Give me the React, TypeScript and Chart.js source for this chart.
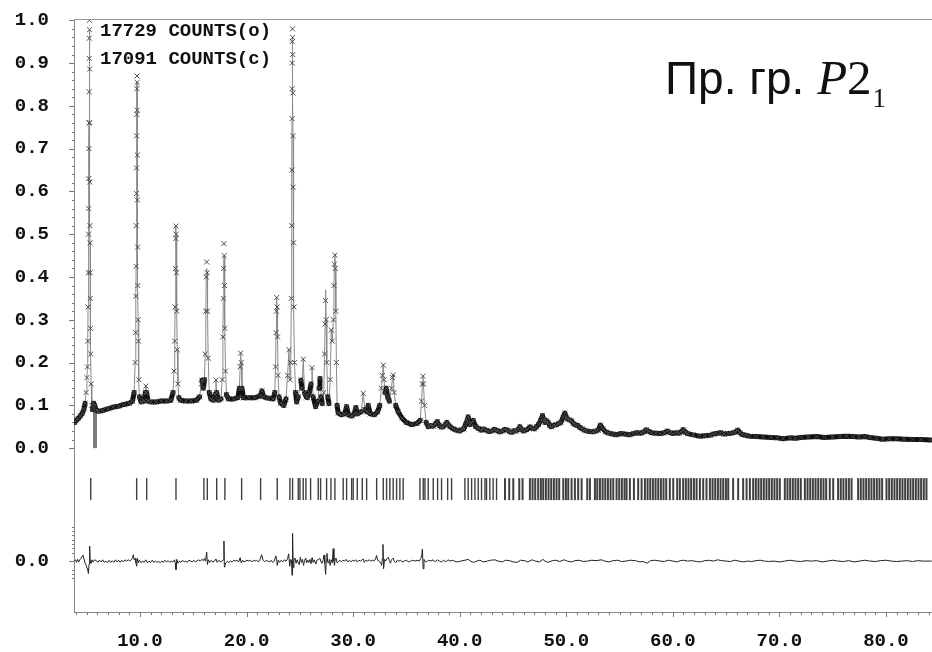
import React, { useEffect, useRef } from 'react';
import { Chart, registerables } from 'chart.js';

Chart.register(...registerables);

// ---- axis ranges & labels ----
const X_MIN = 3.81;
const X_MAX = 84.32;
const Y_MIN = -0.383;
const Y_MAX = 1.003;
const xTickValues = [10, 20, 30, 40, 50, 60, 70, 80];
const yTickValues = [0, 0.1, 0.2, 0.3, 0.4, 0.5, 0.6, 0.7, 0.8, 0.9, 1.0];
const DIFF_ZERO = -0.264; // row where the difference curve is drawn
const TICK_ROW = -0.0958; // row of reflection markers
const legendLines = ['17729 COUNTS(o)', '17091 COUNTS(c)'];
const diffAxisMinor = [0.08, 0.07, 0.06, 0.05, 0.04, 0.03, 0.02, -0.02, -0.03, -0.04];

// ---- observed profile: [2theta, intensity] ----
const observed: [number, number][] = [
  [3.85, 0.060], [4.0, 0.064], [4.2, 0.069], [4.4, 0.075], [4.6, 0.082], [4.75, 0.092], [4.85, 0.105],
  [4.95, 0.13], [5.02, 0.165], [5.07, 0.19], [5.1, 0.25], [5.13, 0.33], [5.15, 0.41], [5.17, 0.5],
  [5.19, 0.56], [5.2, 0.63], [5.21, 0.70], [5.22, 0.76], [5.23, 0.833], [5.24, 0.911], [5.25, 0.958],
  [5.26, 1.0], [5.27, 0.978], [5.28, 0.886], [5.29, 0.761], [5.3, 0.622], [5.31, 0.52], [5.32, 0.48],
  [5.33, 0.41], [5.34, 0.35], [5.36, 0.28], [5.38, 0.22], [5.42, 0.15], [5.48, 0.10], [5.55, 0.09],
  [5.65, 0.105], [5.75, 0.10], [5.9, 0.088], [6.1, 0.086], [6.5, 0.088], [7.0, 0.092], [7.5, 0.096],
  [8.0, 0.098], [8.5, 0.102], [9.0, 0.105], [9.3, 0.11], [9.45, 0.13], [9.55, 0.2], [9.6, 0.27],
  [9.62, 0.355], [9.64, 0.425], [9.66, 0.52], [9.67, 0.595], [9.68, 0.655], [9.69, 0.73], [9.7, 0.78],
  [9.71, 0.84], [9.72, 0.87], [9.73, 0.855], [9.74, 0.79], [9.75, 0.685], [9.76, 0.58], [9.78, 0.47],
  [9.8, 0.38], [9.83, 0.3], [9.86, 0.25], [9.9, 0.16], [9.95, 0.12], [10.1, 0.108], [10.4, 0.11],
  [10.5, 0.13], [10.56, 0.145], [10.62, 0.13], [10.75, 0.11], [11.0, 0.108], [11.5, 0.108], [12.0, 0.11],
  [12.5, 0.11], [12.9, 0.112], [13.1, 0.13], [13.2, 0.18], [13.26, 0.25], [13.3, 0.33], [13.33, 0.42],
  [13.36, 0.49], [13.38, 0.519], [13.4, 0.50], [13.43, 0.41], [13.46, 0.32], [13.5, 0.23], [13.56, 0.15],
  [13.65, 0.118], [13.8, 0.112], [14.3, 0.11], [14.8, 0.11], [15.3, 0.112], [15.6, 0.12], [15.75, 0.15],
  [15.82, 0.159], [15.95, 0.14], [16.05, 0.16], [16.12, 0.22], [16.18, 0.32], [16.22, 0.40], [16.26, 0.435],
  [16.3, 0.41], [16.34, 0.32], [16.4, 0.21], [16.5, 0.13], [16.65, 0.115], [16.9, 0.112], [17.05, 0.125],
  [17.13, 0.159], [17.2, 0.13], [17.35, 0.112], [17.6, 0.115], [17.72, 0.16], [17.78, 0.26], [17.82, 0.35],
  [17.85, 0.42], [17.88, 0.478], [17.9, 0.45], [17.93, 0.38], [17.97, 0.28], [18.03, 0.18], [18.12, 0.125],
  [18.3, 0.115], [18.8, 0.115], [19.2, 0.118], [19.33, 0.14], [19.4, 0.19], [19.45, 0.222], [19.5, 0.20],
  [19.57, 0.14], [19.7, 0.118], [20.2, 0.118], [20.8, 0.118], [21.3, 0.122], [21.45, 0.134], [21.6, 0.12],
  [22.0, 0.117], [22.5, 0.115], [22.65, 0.13], [22.72, 0.19], [22.77, 0.27], [22.8, 0.32], [22.83, 0.352],
  [22.87, 0.33], [22.91, 0.26], [22.96, 0.17], [23.05, 0.12], [23.2, 0.105], [23.5, 0.10], [23.7, 0.115],
  [23.85, 0.17], [23.98, 0.23], [24.08, 0.16], [24.15, 0.20], [24.2, 0.35], [24.23, 0.52], [24.25, 0.65],
  [24.27, 0.77], [24.28, 0.84], [24.29, 0.9], [24.3, 0.95], [24.31, 0.98], [24.32, 0.96], [24.33, 0.92],
  [24.34, 0.83], [24.36, 0.73], [24.38, 0.61], [24.41, 0.48], [24.45, 0.33], [24.5, 0.2], [24.6, 0.13],
  [24.7, 0.108], [24.85, 0.12], [25.1, 0.159], [25.2, 0.14], [25.32, 0.208], [25.45, 0.13], [25.6, 0.12],
  [25.7, 0.118], [25.9, 0.13], [26.05, 0.15], [26.14, 0.188], [26.25, 0.12], [26.48, 0.097], [26.7, 0.11],
  [26.8, 0.14], [26.89, 0.163], [27.0, 0.12], [27.1, 0.104], [27.25, 0.13], [27.32, 0.22], [27.37, 0.29],
  [27.42, 0.345], [27.47, 0.3], [27.53, 0.2], [27.62, 0.12], [27.73, 0.104], [27.85, 0.16], [27.95, 0.276],
  [28.05, 0.25], [28.15, 0.3], [28.2, 0.38], [28.25, 0.43], [28.29, 0.451], [28.33, 0.42], [28.38, 0.32],
  [28.43, 0.2], [28.5, 0.1], [28.6, 0.082], [28.9, 0.078], [29.2, 0.08], [29.39, 0.097], [29.55, 0.078],
  [29.9, 0.075], [30.1, 0.08], [30.26, 0.095], [30.4, 0.08], [30.75, 0.085], [30.95, 0.128], [31.1, 0.09],
  [31.3, 0.085], [31.42, 0.1], [31.6, 0.08], [32.0, 0.078], [32.3, 0.085], [32.5, 0.10], [32.65, 0.14],
  [32.75, 0.17], [32.83, 0.194], [32.9, 0.16], [33.0, 0.13], [33.1, 0.14], [33.24, 0.12], [33.4, 0.11],
  [33.6, 0.14], [33.7, 0.165], [33.76, 0.171], [33.85, 0.13], [34.0, 0.1], [34.23, 0.085], [34.6, 0.07],
  [35.0, 0.06], [35.5, 0.055], [36.0, 0.058], [36.3, 0.065], [36.42, 0.11], [36.5, 0.15], [36.55, 0.168],
  [36.6, 0.15], [36.7, 0.1], [36.85, 0.06], [37.05, 0.05], [37.3, 0.053], [37.5, 0.051], [37.7, 0.056],
  [37.9, 0.062], [38.1, 0.052], [38.3, 0.049], [38.5, 0.051], [38.65, 0.055], [38.8, 0.06], [38.95, 0.054],
  [39.1, 0.05], [39.4, 0.045], [39.7, 0.042], [40.0, 0.04], [40.2, 0.043], [40.4, 0.045], [40.55, 0.055],
  [40.7, 0.065], [40.8, 0.073], [40.95, 0.055], [41.1, 0.058], [41.27, 0.065], [41.5, 0.05], [41.75, 0.046],
  [42.0, 0.042], [42.25, 0.045], [42.5, 0.042], [42.75, 0.039], [43.0, 0.04], [43.25, 0.044], [43.5, 0.041],
  [43.75, 0.038], [44.0, 0.04], [44.25, 0.044], [44.5, 0.042], [44.7, 0.038], [44.9, 0.037], [45.1, 0.041],
  [45.3, 0.04], [45.5, 0.044], [45.65, 0.05], [45.8, 0.043], [46.0, 0.04], [46.3, 0.043], [46.6, 0.05],
  [46.8, 0.046], [47.0, 0.045], [47.2, 0.05], [47.4, 0.055], [47.6, 0.065], [47.77, 0.076], [47.9, 0.066],
  [48.0, 0.06], [48.15, 0.064], [48.3, 0.06], [48.45, 0.053], [48.6, 0.05], [48.85, 0.054], [49.1, 0.055],
  [49.3, 0.058], [49.5, 0.06], [49.7, 0.072], [49.87, 0.082], [50.0, 0.072], [50.1, 0.068], [50.3, 0.066],
  [50.5, 0.064], [50.65, 0.058], [50.8, 0.055], [51.06, 0.053], [51.3, 0.048], [51.5, 0.045], [51.7, 0.042],
  [51.9, 0.04], [52.2, 0.039], [52.5, 0.038], [52.75, 0.04], [53.0, 0.042], [53.2, 0.054], [53.45, 0.045],
  [53.7, 0.038], [54.0, 0.035], [54.35, 0.033], [54.7, 0.031], [55.1, 0.034], [55.5, 0.033], [55.9, 0.031],
  [56.3, 0.034], [56.65, 0.036], [57.0, 0.035], [57.3, 0.038], [57.5, 0.043], [57.75, 0.039], [58.0, 0.036],
  [58.4, 0.035], [58.8, 0.034], [59.2, 0.036], [59.5, 0.04], [59.75, 0.036], [60.0, 0.034], [60.3, 0.036],
  [60.6, 0.035], [60.8, 0.038], [60.97, 0.043], [61.2, 0.037], [61.4, 0.034], [61.9, 0.031], [62.5, 0.028],
  [63.0, 0.029], [63.5, 0.03], [63.8, 0.033], [64.1, 0.034], [64.45, 0.036], [64.8, 0.033], [65.2, 0.034],
  [65.5, 0.035], [65.8, 0.037], [66.1, 0.042], [66.3, 0.036], [66.5, 0.032], [66.85, 0.03], [67.2, 0.028],
  [67.8, 0.027], [68.5, 0.026], [69.2, 0.025], [69.8, 0.024], [70.35, 0.022], [71.0, 0.024], [71.5, 0.023],
  [72.0, 0.025], [72.7, 0.026], [73.5, 0.027], [74.2, 0.025], [75.0, 0.026], [75.7, 0.027], [76.3, 0.028],
  [76.9, 0.027], [77.5, 0.026], [78.0, 0.027], [78.5, 0.025], [79.1, 0.023], [79.7, 0.021], [80.3, 0.022],
  [81.0, 0.022], [81.7, 0.021], [82.5, 0.02], [83.3, 0.02], [84.2, 0.019],
];

// calculated profile differs from observed only at these peak tops
const calcPeakTops: [number, number][] = [
  [5.26, 0.96], [9.72, 0.855], [16.26, 0.42], [17.88, 0.43], [24.31, 0.94], [27.42, 0.37],
];

// difference curve (obs - calc): [2theta, delta]
const difference: [number, number][] = [
  [3.85, 0], [3.95, 0.003], [4.05, -0.003], [4.15, 0.004], [4.25, -0.002], [4.35, 0.003], [4.45, 0.006],
  [4.55, 0.01], [4.66, 0.014], [4.75, 0.005], [4.85, -0.005], [4.95, -0.01], [5.05, -0.018], [5.12, -0.022],
  [5.16, -0.029], [5.22, -0.008], [5.28, 0.035], [5.33, 0.0], [5.4, -0.005], [5.5, 0.003], [5.6, -0.002],
  [5.75, 0.003], [5.9, 0.001], [6.05, -0.003], [6.2, 0.002], [6.35, -0.002], [6.5, 0.003], [6.65, -0.003],
  [6.8, 0.0], [6.95, -0.004], [7.1, 0.002], [7.25, -0.003], [7.4, 0.001], [7.55, -0.003], [7.7, 0.003],
  [7.85, -0.002], [8.0, 0.002], [8.15, -0.003], [8.3, 0.002], [8.45, -0.002], [8.6, 0.003], [8.75, 0.0],
  [8.9, 0.003], [9.05, 0.0], [9.2, 0.004], [9.3, 0.008], [9.38, 0.015], [9.45, 0.003], [9.55, 0.006],
  [9.62, -0.004], [9.69, -0.012], [9.76, 0.006], [9.85, -0.004], [9.95, 0.002], [10.1, -0.004], [10.25, 0.0],
  [10.4, -0.003], [10.55, 0.003], [10.7, -0.004], [10.85, 0.0], [11.0, -0.003], [11.15, 0.002], [11.3, -0.003],
  [11.45, 0.0], [11.6, -0.003], [11.75, -0.001], [11.9, -0.004], [12.05, 0.0], [12.2, -0.003], [12.35, 0.002],
  [12.5, -0.002], [12.65, 0.001], [12.8, -0.003], [12.95, 0.0], [13.1, -0.002], [13.25, 0.003], [13.32, -0.006],
  [13.38, -0.02], [13.45, 0.004], [13.55, -0.005], [13.7, 0.0], [13.85, -0.003], [14.0, 0.002], [14.15, -0.002],
  [14.3, 0.0], [14.45, -0.003], [14.6, 0.002], [14.75, 0.0], [14.9, -0.002], [15.05, 0.002], [15.2, -0.002],
  [15.35, 0.0], [15.5, 0.003], [15.65, 0.0], [15.8, 0.004], [15.95, 0.001], [16.05, 0.006], [16.15, 0.0],
  [16.26, 0.021], [16.33, -0.008], [16.42, 0.003], [16.55, -0.003], [16.7, 0.002], [16.85, -0.002], [17.0, 0.0],
  [17.13, 0.005], [17.25, -0.003], [17.4, 0.002], [17.55, -0.002], [17.7, 0.0], [17.84, 0.003], [17.88, 0.047],
  [17.92, -0.014], [17.97, -0.01], [18.05, -0.004], [18.2, -0.001], [18.35, -0.003], [18.5, 0.0], [18.65, -0.002],
  [18.8, 0.002], [18.95, 0.0], [19.1, 0.002], [19.25, -0.002], [19.4, 0.008], [19.5, -0.004], [19.62, 0.002],
  [19.75, -0.002], [19.9, 0.0], [20.05, 0.002], [20.2, 0.0], [20.35, 0.002], [20.5, -0.002], [20.65, 0.002],
  [20.8, 0.0], [20.95, 0.002], [21.1, -0.002], [21.25, 0.003], [21.42, 0.015], [21.55, 0.002], [21.7, -0.002],
  [21.85, 0.002], [22.0, 0.0], [22.15, -0.002], [22.3, 0.002], [22.45, -0.003], [22.6, 0.0], [22.75, 0.012],
  [22.83, 0.003], [22.88, -0.01], [22.98, 0.002], [23.1, -0.003], [23.25, 0.002], [23.4, -0.002], [23.55, 0.003],
  [23.7, 0.0], [23.85, 0.005], [23.95, 0.017], [24.05, -0.012], [24.15, 0.004], [24.22, 0.002], [24.27, -0.033],
  [24.32, 0.065], [24.38, -0.015], [24.45, 0.002], [24.55, 0.007], [24.65, -0.005], [24.75, 0.003],
  [24.85, -0.004], [24.95, -0.008], [25.05, 0.009], [25.15, -0.003], [25.25, 0.004], [25.35, -0.01],
  [25.45, 0.002], [25.55, 0.007], [25.65, -0.004], [25.75, 0.002], [25.85, -0.003], [25.95, 0.004],
  [26.05, -0.006], [26.15, 0.008], [26.25, -0.003], [26.35, 0.003], [26.5, -0.007], [26.6, 0.002], [26.75, 0.004],
  [26.9, 0.006], [27.0, -0.003], [27.1, -0.005], [27.2, 0.004], [27.27, 0.014], [27.34, -0.005], [27.42, -0.031],
  [27.49, 0.004], [27.55, 0.018], [27.62, -0.003], [27.7, -0.005], [27.78, 0.004], [27.85, -0.01], [27.95, 0.003],
  [28.05, -0.004], [28.13, 0.029], [28.2, 0.0], [28.25, -0.01], [28.32, 0.005], [28.4, 0.007], [28.5, -0.004],
  [28.6, -0.002], [28.75, 0.002], [28.9, -0.002], [29.05, 0.002], [29.2, 0.0], [29.35, 0.004], [29.5, -0.002],
  [29.65, 0.002], [29.8, -0.002], [29.95, 0.002], [30.1, 0.0], [30.25, 0.003], [30.4, -0.002], [30.55, 0.002],
  [30.7, 0.0], [30.85, 0.003], [30.95, 0.005], [31.05, -0.003], [31.2, 0.002], [31.35, 0.0], [31.5, 0.003],
  [31.65, 0.0], [31.8, 0.002], [31.95, 0.0], [32.1, 0.005], [32.2, 0.013], [32.3, 0.002], [32.45, 0.0],
  [32.6, -0.005], [32.67, -0.01], [32.75, 0.006], [32.8, 0.039], [32.86, -0.018], [32.95, 0.004], [33.05, 0.0],
  [33.15, 0.005], [33.3, 0.009], [33.4, 0.001], [33.5, -0.005], [33.6, 0.003], [33.75, 0.007], [33.85, 0.0],
  [34.0, -0.004], [34.15, 0.002], [34.3, 0.0], [34.45, 0.002], [34.6, -0.002], [34.8, 0.0], [35.0, 0.002],
  [35.2, -0.002], [35.4, 0.0], [35.6, 0.002], [35.8, 0.0], [36.0, 0.002], [36.2, 0.0], [36.35, 0.006],
  [36.45, 0.015], [36.5, 0.028], [36.57, -0.018], [36.65, 0.004], [36.75, 0.0], [36.9, -0.002], [37.1, 0.002],
  [37.3, 0.0], [37.5, 0.003], [37.7, -0.002], [37.9, 0.003], [38.1, 0.0], [38.3, -0.002], [38.5, 0.002],
  [38.7, -0.002], [38.9, 0.003], [39.1, 0.0], [39.3, 0.002], [39.5, 0.0], [39.8, -0.002], [40.1, 0.0],
  [40.5, 0.002], [40.8, 0.004], [41.0, 0.0], [41.3, -0.003], [41.6, 0.0], [41.9, 0.002], [42.2, -0.002],
  [42.6, 0.0], [42.9, 0.002], [43.3, 0.003], [43.6, 0.0], [44.0, -0.002], [44.3, 0.002], [44.7, 0.001],
  [45.0, -0.002], [45.4, -0.003], [45.7, 0.002], [46.1, 0.001], [46.4, -0.002], [46.8, 0.003], [47.1, 0.0],
  [47.5, -0.002], [47.8, 0.004], [48.0, 0.0], [48.3, -0.003], [48.7, 0.001], [49.0, 0.002], [49.4, -0.001],
  [49.8, 0.003], [50.1, 0.0], [50.5, -0.002], [50.8, 0.001], [51.2, 0.002], [51.6, -0.001], [52.0, 0.0],
  [52.4, 0.002], [52.8, 0.001], [53.3, 0.003], [53.6, 0.0], [54.0, -0.002], [54.4, 0.001], [54.8, 0.002],
  [55.2, -0.001], [55.6, 0.0], [56.0, 0.002], [56.5, 0.001], [56.9, -0.002], [57.2, -0.001], [57.6, -0.005],
  [57.9, 0.001], [58.3, 0.002], [58.8, 0.0], [59.2, -0.001], [59.6, 0.002], [60.0, 0.0], [60.4, -0.002],
  [60.7, 0.001], [61.0, 0.002], [61.4, 0.0], [61.8, 0.001], [62.2, -0.001], [62.6, -0.002], [63.0, 0.001],
  [63.4, 0.002], [63.8, 0.0], [64.2, 0.003], [64.6, 0.001], [65.0, 0.0], [65.4, -0.001], [65.8, 0.002],
  [66.2, 0.0], [66.6, -0.002], [67.0, 0.0], [67.4, -0.001], [67.8, 0.001], [68.2, 0.002], [68.6, 0.0],
  [69.0, -0.001], [69.5, 0.0], [70.0, -0.002], [70.5, 0.0], [71.0, 0.002], [71.5, 0.0], [72.0, -0.001],
  [72.5, 0.001], [73.0, 0.0], [73.5, 0.001], [74.0, -0.002], [74.5, 0.0], [75.0, 0.002], [75.5, 0.0],
  [76.0, -0.001], [76.5, 0.001], [77.0, -0.002], [77.5, 0.0], [78.0, 0.002], [78.5, 0.0], [79.0, -0.001],
  [79.5, 0.001], [80.0, 0.002], [80.5, 0.0], [81.0, -0.001], [81.5, 0.0], [82.0, 0.001], [82.5, -0.001],
  [83.0, 0.001], [83.5, 0.0], [84.3, 0.0],
];

// Bragg reflection positions (2theta)
const reflections: number[] = [
  5.38, 9.69, 10.63, 13.38, 16.0, 16.32, 17.2, 17.97, 19.54, 21.32, 22.88, 24.07, 24.32, 24.85, 25.01,
  25.32, 25.57, 26.01, 26.73, 26.95, 27.51, 27.92, 28.29, 29.07, 29.39, 29.86, 30.01, 30.39, 30.86, 31.27,
  32.21, 32.83, 33.14, 33.45, 33.76, 34.08, 34.39, 34.70, 36.27, 36.58, 36.74, 37.05, 37.52, 37.93, 38.30,
  38.87, 39.24, 40.49, 40.80, 41.12, 41.43, 41.74, 42.05, 42.37, 42.52, 42.83, 43.14, 43.46,
  44.25, 44.65, 45.03, 45.59, 45.90, 46.59, 46.84, 47.09, 47.37, 47.62, 47.84, 48.09, 48.34, 48.59, 48.84,
  49.09, 49.34, 49.72, 49.97, 50.19, 50.50, 50.81, 51.12, 51.44, 51.97, 52.22, 52.69, 52.91, 53.16, 53.41,
  53.66, 53.91, 54.16, 54.41, 54.72, 54.97, 55.22, 55.47, 55.66, 55.97, 56.35, 56.75, 57.07, 57.38, 57.63,
  57.88, 58.13, 58.38, 58.63, 58.88, 59.13, 59.38, 59.72, 60.04, 60.41, 60.66, 60.97, 61.22, 61.47, 61.72,
  61.98, 62.23, 62.54, 62.85, 63.16, 63.48, 63.73, 63.98, 64.23, 64.48, 64.73, 64.98, 65.20, 65.66, 66.13,
  66.60, 66.92, 67.23, 67.54, 67.79, 68.04, 68.29, 68.54, 68.79, 69.04, 69.29, 69.54, 69.79, 70.04, 70.51,
  70.76, 71.01, 71.26, 71.51, 71.76, 72.01, 72.39, 72.64, 72.89, 73.14, 73.39, 73.64, 73.89, 74.14, 74.39,
  74.73, 75.05, 75.51, 75.76, 76.01, 76.27, 76.52, 76.77, 77.39, 77.64, 77.89, 78.14, 78.39, 78.64, 78.89,
  79.14, 79.39, 79.64, 80.05, 80.30, 80.55, 80.80, 81.05, 81.30, 81.55, 81.80, 82.05, 82.30, 82.55, 82.80,
  83.05, 83.30, 83.55, 83.80,
];

// excluded-region marker
const excludedRegion: [number, number][] = [[5.78, 0], [5.78, 0.1]];

const MONO = '"Liberation Mono", "DejaVu Sans Mono", monospace';

const decorPlugin = {
  id: 'decor',
  afterDraw(chart: any) {
    const { ctx, chartArea: a, scales } = chart;
    const x = scales.x;
    const y = scales.y;
    ctx.save();
    ctx.lineWidth = 1;
    // top frame line
    ctx.strokeStyle = '#999';
    ctx.beginPath();
    ctx.moveTo(a.left, Math.round(a.top) + 0.5);
    ctx.lineTo(a.right, Math.round(a.top) + 0.5);
    ctx.stroke();
    // x ticks
    ctx.strokeStyle = '#777';
    for (let v = 4; v <= 84; v++) {
      const px = Math.round(x.getPixelForValue(v)) + 0.5;
      const len = v % 10 === 0 ? 5 : 3;
      ctx.beginPath();
      ctx.moveTo(px, a.bottom);
      ctx.lineTo(px, a.bottom + len);
      ctx.stroke();
    }
    // y ticks (main panel)
    for (let i = 0; i <= 50; i++) {
      const py = Math.round(y.getPixelForValue(i * 0.02)) + 0.5;
      const len = i % 5 === 0 ? 5 : 2;
      ctx.beginPath();
      ctx.moveTo(a.left - len, py);
      ctx.lineTo(a.left, py);
      ctx.stroke();
    }
    // y ticks (difference panel)
    const pz = Math.round(y.getPixelForValue(DIFF_ZERO)) + 0.5;
    ctx.beginPath();
    ctx.moveTo(a.left - 5, pz);
    ctx.lineTo(a.left, pz);
    ctx.stroke();
    for (const d of diffAxisMinor) {
      const py = Math.round(y.getPixelForValue(DIFF_ZERO + d)) + 0.5;
      ctx.beginPath();
      ctx.moveTo(a.left - 2, py);
      ctx.lineTo(a.left, py);
      ctx.stroke();
    }
    // counts text
    ctx.fillStyle = '#111';
    ctx.font = 'bold 19px ' + MONO;
    ctx.textAlign = 'left';
    ctx.textBaseline = 'middle';
    ctx.fillText(legendLines[0], 100, 31);
    ctx.fillText(legendLines[1], 100, 59);
    // space group annotation
    ctx.textBaseline = 'alphabetic';
    let tx = 665;
    ctx.font = '46px "Liberation Sans", Arial, sans-serif';
    ctx.fillText('Пр. гр. ', tx, 94);
    tx += ctx.measureText('Пр. гр. ').width;
    ctx.font = 'italic 49px "Liberation Serif", serif';
    ctx.fillText('P', tx, 94);
    tx += ctx.measureText('P').width;
    ctx.font = '49px "Liberation Serif", serif';
    ctx.fillText('2', tx, 94);
    tx += ctx.measureText('2').width;
    ctx.font = '27px "Liberation Serif", serif';
    ctx.fillText('1', tx + 1, 107);
    ctx.restore();
  },
};

export default function App() {
  const ref = useRef<HTMLCanvasElement | null>(null);
  useEffect(() => {
    document.body.style.margin = '0';
    const canvas = ref.current;
    if (!canvas) return;
    const obsData = observed.map(([x, y]) => ({ x, y }));
    const calcData = observed.map(([x, y]) => {
      const t = calcPeakTops.find((c) => c[0] === x);
      return { x, y: t ? t[1] : y };
    });
    const diffData = difference.map(([x, d]) => ({ x, y: DIFF_ZERO + d }));
    const tickData = reflections.map((x) => ({ x, y: TICK_ROW }));
    const exclData = excludedRegion.map(([x, y]) => ({ x, y }));

    // thin (peak) segments: steep, or points packed closely around a peak top
    const thin = (c: any) =>
      Math.abs(c.p1.y - c.p0.y) > 10 || Math.abs(c.p1.x - c.p0.x) < 0.9;

    const chart = new Chart(canvas, {
      type: 'line',
      data: {
        datasets: [
          {
            label: 'excluded',
            data: exclData,
            borderColor: '#7a7a7a',
            borderWidth: 4,
            pointRadius: 0,
            order: 4,
          },
          {
            label: 'calc',
            data: calcData,
            borderColor: '#8a8a8a',
            borderWidth: 1,
            pointRadius: 0,
            order: 3,
          },
          {
            label: 'obs',
            data: obsData,
            borderColor: '#111',
            borderWidth: 5,
            borderJoinStyle: 'round',
            borderCapStyle: 'round',
            segment: {
              borderColor: (c: any) => (thin(c) ? 'rgba(0,0,0,0)' : '#111'),
              borderWidth: (c: any) => (thin(c) ? 1 : 5),
            },
            pointStyle: 'crossRot',
            pointRadius: 3.5,
            pointBorderWidth: 1,
            pointBorderColor: '#4a4a4a',
            pointBackgroundColor: '#4a4a4a',
            order: 2,
          },
          {
            label: 'reflections',
            data: tickData,
            showLine: false,
            pointStyle: 'line',
            pointRotation: 90,
            pointRadius: 11,
            pointBorderWidth: (c: any) => (c.raw && c.raw.x > 43.6 ? 2 : 1.4),
            pointBorderColor: '#404040',
            order: 1,
          },
          {
            label: 'difference',
            data: diffData,
            borderColor: '#222',
            borderWidth: 1,
            pointRadius: 0,
            order: 1,
          },
        ],
      },
      options: {
        responsive: false,
        animation: false,
        events: [],
        layout: { autoPadding: false, padding: { top: 19, right: 0, left: 0, bottom: 0 } },
        plugins: { legend: { display: false }, tooltip: { enabled: false } },
        scales: {
          x: {
            type: 'linear',
            min: X_MIN,
            max: X_MAX,
            grid: { display: false, drawTicks: false },
            border: { display: true, color: '#888', width: 1 },
            afterBuildTicks: (s: any) => {
              s.ticks = xTickValues.map((v) => ({ value: v }));
            },
            afterFit: (s: any) => {
              s.height = 40;
              s.paddingLeft = 0;
              s.paddingRight = 0;
            },
            ticks: {
              autoSkip: false,
              maxRotation: 0,
              padding: 18,
              color: '#111',
              font: { family: MONO, size: 19, weight: 'bold' },
              callback: (v: any) => Number(v).toFixed(1),
            },
          },
          y: {
            type: 'linear',
            min: Y_MIN,
            max: Y_MAX,
            grid: { display: false, drawTicks: false },
            border: { display: true, color: '#888', width: 1 },
            afterBuildTicks: (s: any) => {
              s.ticks = [{ value: DIFF_ZERO }, ...yTickValues.map((v) => ({ value: v }))];
            },
            afterFit: (s: any) => {
              s.width = 74;
              s.paddingTop = 0;
              s.paddingBottom = 0;
            },
            ticks: {
              autoSkip: false,
              padding: 25,
              color: '#111',
              font: { family: MONO, size: 19, weight: 'bold' },
              callback: (v: any) => (Number(v) < -0.1 ? '0.0' : Number(v).toFixed(1)),
            },
          },
        },
      },
      plugins: [decorPlugin],
    } as any);
    return () => chart.destroy();
  }, []);

  return (
    <div style={{ position: 'absolute', left: 0, top: 0, width: 932, height: 652, background: '#fff' }}>
      <canvas ref={ref} width={932} height={652} />
    </div>
  );
}
